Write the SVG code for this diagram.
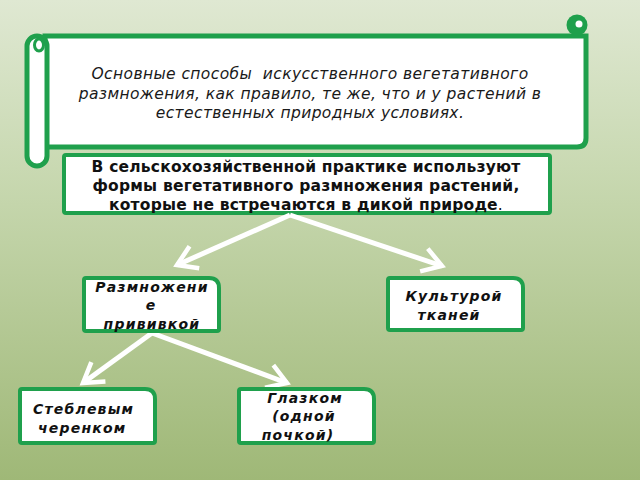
<svg xmlns="http://www.w3.org/2000/svg" width="640" height="480" viewBox="0 0 640 480">
<defs>
<linearGradient id="bg" x1="0" y1="0" x2="0" y2="1">
<stop offset="0" stop-color="#dfe8d2"/>
<stop offset="0.35" stop-color="#c9d9b2"/>
<stop offset="1" stop-color="#9fb877"/>
</linearGradient>
<marker id="chev" markerUnits="userSpaceOnUse" markerWidth="40" markerHeight="40" refX="0" refY="0" viewBox="-25 -20 30 40" orient="auto" overflow="visible">
<path d="M-19,-12 L0,0 L-19,12" fill="none" stroke="#ffffff" stroke-width="4.5" stroke-linejoin="miter"/>
</marker>
<style>
.g{stroke:#1fa04c;fill:#ffffff}
.box{stroke:#1fa04c;stroke-width:4;fill:#ffffff}
.arr{stroke:#ffffff;stroke-width:5;fill:none;marker-end:url(#chev)}
.it{font-family:"DejaVu Sans",sans-serif;font-style:italic;font-size:15.5px;letter-spacing:0.4px;fill:#1a1a1a}
.b{font-family:"DejaVu Sans",sans-serif;font-weight:bold;font-size:15.5px;letter-spacing:0.2px;fill:#111111}
.bi{font-family:"DejaVu Sans",sans-serif;font-weight:bold;font-style:italic;font-size:14px;letter-spacing:1.2px;fill:#111111}
</style>
</defs>
<rect x="0" y="0" width="640" height="480" fill="url(#bg)"/>

<g id="scroll">
<path class="g" stroke-width="5" d="M45,36 H586 V138 Q586,147 577,147 H45 Z"/>
<circle cx="577" cy="25" r="10.5" fill="#1fa04c"/>
<circle cx="579" cy="24" r="3.5" fill="#ffffff"/>
<rect class="g" stroke-width="5" x="27" y="36" width="20" height="130" rx="10"/>
<ellipse cx="39" cy="45" rx="4.5" ry="6" fill="#ffffff" stroke="#1fa04c" stroke-width="3"/>
<text class="it" text-anchor="middle" xml:space="preserve"><tspan x="310" y="79">Основные способы  искусственного вегетативного</tspan><tspan x="310" y="99">размножения, как правило, те же, что и у растений в</tspan><tspan x="310" y="118">естественных природных условиях.</tspan></text>
</g>

<g id="practice">
<rect class="box" x="64" y="155" width="486" height="58" rx="2"/>
<text class="b" text-anchor="middle"><tspan x="306" y="172">В сельскохозяйственной практике используют</tspan><tspan x="306" y="191">формы вегетативного размножения растений,</tspan><tspan x="306" y="210">которые не встречаются в дикой природе<tspan font-weight="normal">.</tspan></tspan></text>
</g>

<g id="connectors">
<path class="arr" d="M290,215 L177,265"/>
<path class="arr" d="M290,215 L442,266"/>
<path class="arr" d="M152,333 L83,383"/>
<path class="arr" d="M152,333 L287,383"/>
</g>

<g id="grafting">
<path class="box" d="M86,278 H209 Q219,278 219,288 V329 Q219,331 217,331 H86 Q84,331 84,329 V280 Q84,278 86,278 Z"/>
<text class="bi" text-anchor="middle"><tspan x="152" y="292">Размножени</tspan><tspan x="151" y="310">е</tspan><tspan x="152" y="329">прививкой</tspan></text>
</g>

<g id="tissue">
<path class="box" d="M390,278 H513 Q523,278 523,288 V328 Q523,330 521,330 H390 Q388,330 388,328 V280 Q388,278 390,278 Z"/>
<text class="bi" text-anchor="middle"><tspan x="454" y="301">Культурой</tspan><tspan x="449" y="320">тканей</tspan></text>
</g>

<g id="stem">
<path class="box" d="M22,389 H145 Q155,389 155,399 V441 Q155,443 153,443 H22 Q20,443 20,441 V391 Q20,389 22,389 Z"/>
<text class="bi"><tspan x="33" y="414">Стеблевым</tspan><tspan x="38" y="433">черенком</tspan></text>
</g>

<g id="bud">
<path class="box" d="M241,389 H364 Q374,389 374,399 V441 Q374,443 372,443 H241 Q239,443 239,441 V391 Q239,389 241,389 Z"/>
<text class="bi" text-anchor="middle"><tspan x="305" y="403">Глазком</tspan><tspan x="304" y="421">(одной</tspan><tspan x="298" y="440">почкой)</tspan></text>
</g>
</svg>
